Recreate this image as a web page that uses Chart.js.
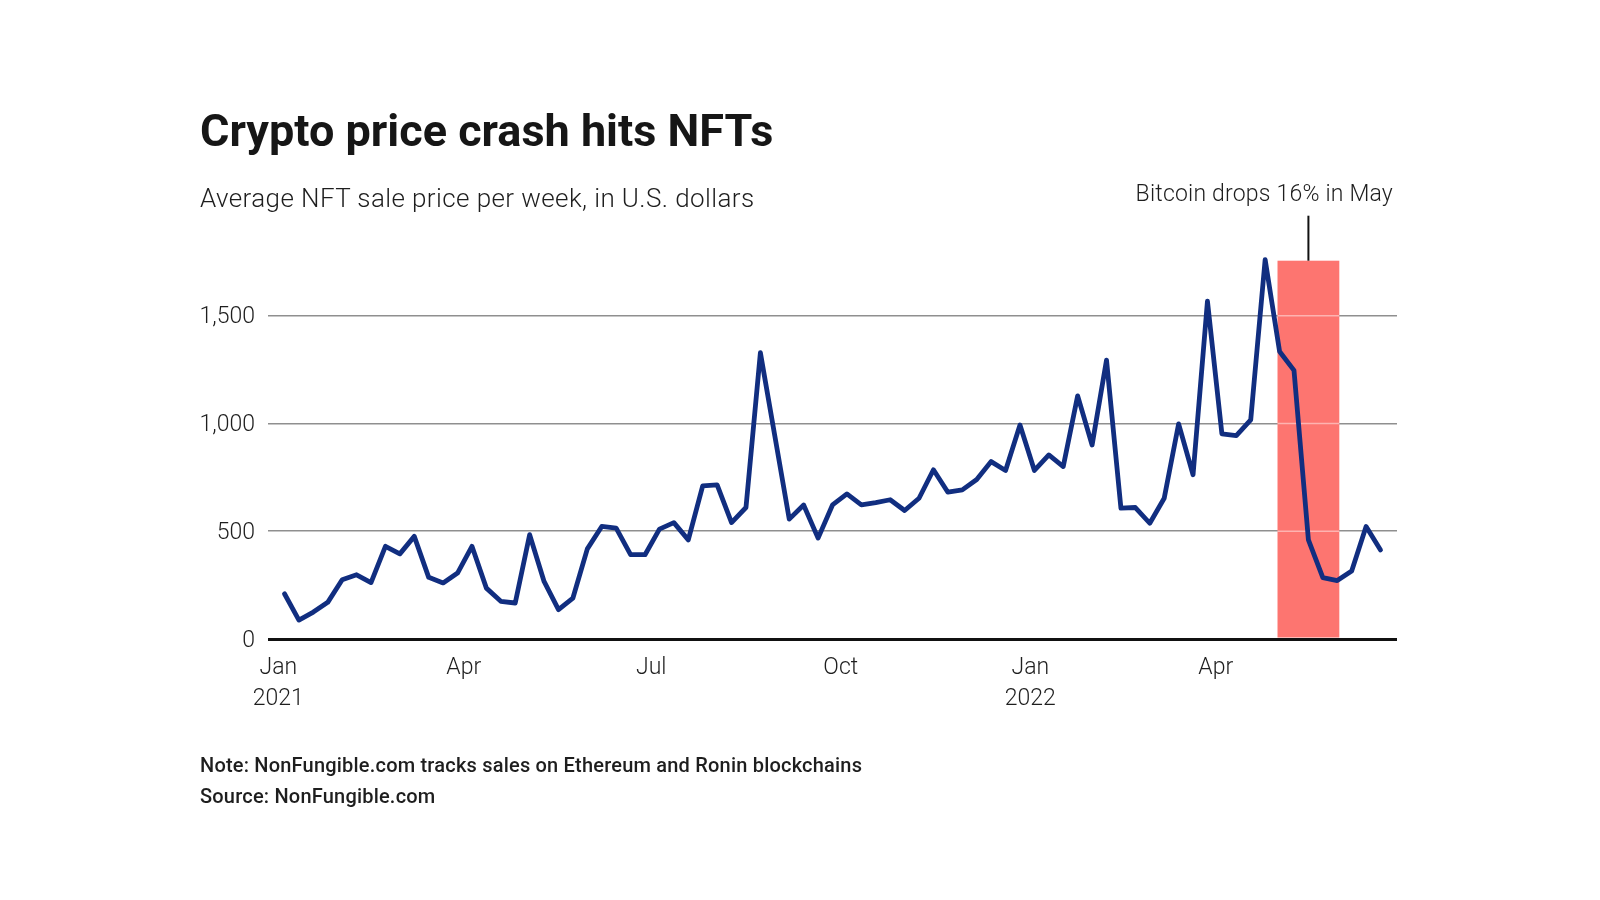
<!DOCTYPE html>
<html>
<head>
<meta charset="utf-8">
<script src="https://cdn.jsdelivr.net/npm/chart.js@4.4.1/dist/chart.umd.min.js"></script>
<style>
  html, body { margin: 0; padding: 0; background: #fff; }
  #wrap { position: relative; width: 1600px; height: 900px; overflow: hidden; font-family: Roboto, sans-serif; }
  #chart { position: absolute; left: 0; top: 0; }
  .txt { position: absolute; left: 200px; white-space: nowrap; line-height: 1; }
  #title { top: 108px; font-size: 45px; font-weight: 700; color: #161616; }
  #subtitle { top: 185px; font-size: 26px; font-weight: 300; letter-spacing: 0.4px; color: #1e1e1e; }
  #note { top: 755px; font-size: 20px; font-weight: 500; letter-spacing: 0.2px; color: #1e1e1e; }
  #source { top: 786px; font-size: 20px; font-weight: 500; letter-spacing: 0.2px; color: #1e1e1e; }
</style>
</head>
<body>
<div id="wrap">
  <canvas id="chart" width="1600" height="900"></canvas>
  <div class="txt" id="title">Crypto price crash hits NFTs</div>
  <div class="txt" id="subtitle">Average NFT sale price per week, in U.S. dollars</div>
  <div class="txt" id="note">Note: NonFungible.com tracks sales on Ethereum and Ronin blockchains</div>
  <div class="txt" id="source">Source: NonFungible.com</div>
</div>
<script>
// weekly data, NonFungible.com
const weekDates = [
  '2021-01-04', '2021-01-11', '2021-01-18', '2021-01-25',
  '2021-02-01', '2021-02-08', '2021-02-15', '2021-02-22',
  '2021-03-01', '2021-03-08', '2021-03-15', '2021-03-22', '2021-03-29',
  '2021-04-05', '2021-04-12', '2021-04-19', '2021-04-26',
  '2021-05-03', '2021-05-10', '2021-05-17', '2021-05-24', '2021-05-31',
  '2021-06-07', '2021-06-14', '2021-06-21', '2021-06-28',
  '2021-07-05', '2021-07-12', '2021-07-19', '2021-07-26',
  '2021-08-02', '2021-08-09', '2021-08-16', '2021-08-23', '2021-08-30',
  '2021-09-06', '2021-09-13', '2021-09-20', '2021-09-27',
  '2021-10-04', '2021-10-11', '2021-10-18', '2021-10-25',
  '2021-11-01', '2021-11-08', '2021-11-15', '2021-11-22', '2021-11-29',
  '2021-12-06', '2021-12-13', '2021-12-20', '2021-12-27',
  '2022-01-03', '2022-01-10', '2022-01-17', '2022-01-24', '2022-01-31',
  '2022-02-07', '2022-02-14', '2022-02-21', '2022-02-28',
  '2022-03-07', '2022-03-14', '2022-03-21', '2022-03-28',
  '2022-04-04', '2022-04-11', '2022-04-18', '2022-04-25',
  '2022-05-02', '2022-05-09', '2022-05-16', '2022-05-23', '2022-05-30',
  '2022-06-06', '2022-06-13', '2022-06-20'
];
const avgPrice = [
  210, 88, 125, 170,
  275, 298, 262, 430,
  395, 476, 286, 260, 306,
  430, 236, 175, 167,
  484, 267, 136, 190, 418,
  522, 514, 391, 391,
  510, 540, 460, 710,
  715, 540, 610, 1328, 942,
  556, 622, 468, 622,
  673, 622, 633, 646,
  596, 653, 785, 681, 692,
  740, 823, 782, 993,
  782, 854, 800, 1128, 900,
  1294, 607, 610, 537,
  653, 998, 762, 1567,
  952, 944, 1017, 1760,
  1334, 1246, 460, 285, 271,
  316, 522, 413
];
const xTickDates = ['2021-01-01', '2021-04-01', '2021-07-01', '2021-10-01', '2022-01-01', '2022-04-01'];
const xTickLabels = [['Jan', '2021'], 'Apr', 'Jul', 'Oct', ['Jan', '2022'], 'Apr'];
const yTicks = [0, 500, 1000, 1500];
const highlightRange = ['2022-05-01', '2022-05-31'];
const highlightTop = 1755;
const annotationText = 'Bitcoin drops 16% in May';

function dayOf(s) {
    return (Date.parse(s) - Date.parse('2021-01-01')) / 86400000;
}

// red band for May 2022 + callout
const mayBand = {
    id: 'mayBand',
    beforeDatasetsDraw(chart) {
        const { ctx, chartArea, scales: { x, y } } = chart;
        const x0 = x.getPixelForValue(dayOf(highlightRange[0]));
        const x1 = x.getPixelForValue(dayOf(highlightRange[1]));
        const yT = y.getPixelForValue(highlightTop);
        const yB = y.getPixelForValue(0) - 1.5;
        ctx.save();
        ctx.fillStyle = '#fd7570';
        ctx.fillRect(x0, yT, x1 - x0, yB - yT);
        // gridlines show through faintly
        ctx.strokeStyle = 'rgba(255,255,255,0.45)';
        ctx.lineWidth = 1.5;
        yTicks.filter(v => v > 0).forEach(v => {
            const py = y.getPixelForValue(v);
            ctx.beginPath();
            ctx.moveTo(x0, py);
            ctx.lineTo(x1, py);
            ctx.stroke();
        });
        const cx = (x0 + x1) / 2;
        ctx.strokeStyle = '#111';
        ctx.lineWidth = 2;
        ctx.beginPath();
        ctx.moveTo(cx, yT);
        ctx.lineTo(cx, yT - 45);
        ctx.stroke();
        ctx.fillStyle = '#1e1e1e';
        ctx.font = '300 23px Roboto';
        ctx.letterSpacing = '0.2px';
        ctx.textAlign = 'right';
        ctx.textBaseline = 'alphabetic';
        ctx.fillText(annotationText, chartArea.right - 4, yT - 60);
        ctx.restore();
    }
};

const tickFont = { family: 'Roboto', size: 23, weight: '300', lineHeight: 1.37 };

new Chart(document.getElementById('chart'), {
    type: 'line',
    data: {
        datasets: [{
            label: 'Average NFT sale price',
            data: weekDates.map((d, i) => ({ x: dayOf(d), y: avgPrice[i] })),
            borderColor: '#112e80',
            borderWidth: 4.8,
            borderJoinStyle: 'round',
            borderCapStyle: 'round',
            pointRadius: 0,
            tension: 0,
            fill: false
        }]
    },
    options: {
        responsive: false,
        animation: false,
        layout: { padding: { left: 0, right: 203, top: 251, bottom: 0 } },
        plugins: {
            legend: { display: false },
            tooltip: { enabled: false }
        },
        scales: {
            x: {
                type: 'linear',
                min: -5,
                max: 543,
                grid: { display: false },
                border: { display: false },
                afterBuildTicks: axis => {
                    axis.ticks = xTickDates.map(d => ({ value: dayOf(d) }));
                },
                afterFit: axis => { axis.height = 261; },
                ticks: {
                    autoSkip: false,
                    maxRotation: 0,
                    padding: 5,
                    color: '#1e1e1e',
                    font: tickFont,
                    callback: (value, i) => xTickLabels[i]
                }
            },
            y: {
                min: 0,
                max: 1800,
                border: { display: false },
                grid: {
                    drawTicks: false,
                    color: ctx => ctx.tick && ctx.tick.value === 0 ? '#111' : '#8f8f8f',
                    lineWidth: ctx => ctx.tick && ctx.tick.value === 0 ? 3 : 1.5
                },
                afterBuildTicks: axis => {
                    axis.ticks = yTicks.map(v => ({ value: v }));
                },
                afterFit: axis => { axis.width = 268; },
                ticks: {
                    padding: 13,
                    labelOffset: 2,
                    color: '#1e1e1e',
                    font: tickFont,
                    callback: value => value.toLocaleString('en-US')
                }
            }
        }
    },
    plugins: [mayBand]
});
</script>
</body>
</html>
